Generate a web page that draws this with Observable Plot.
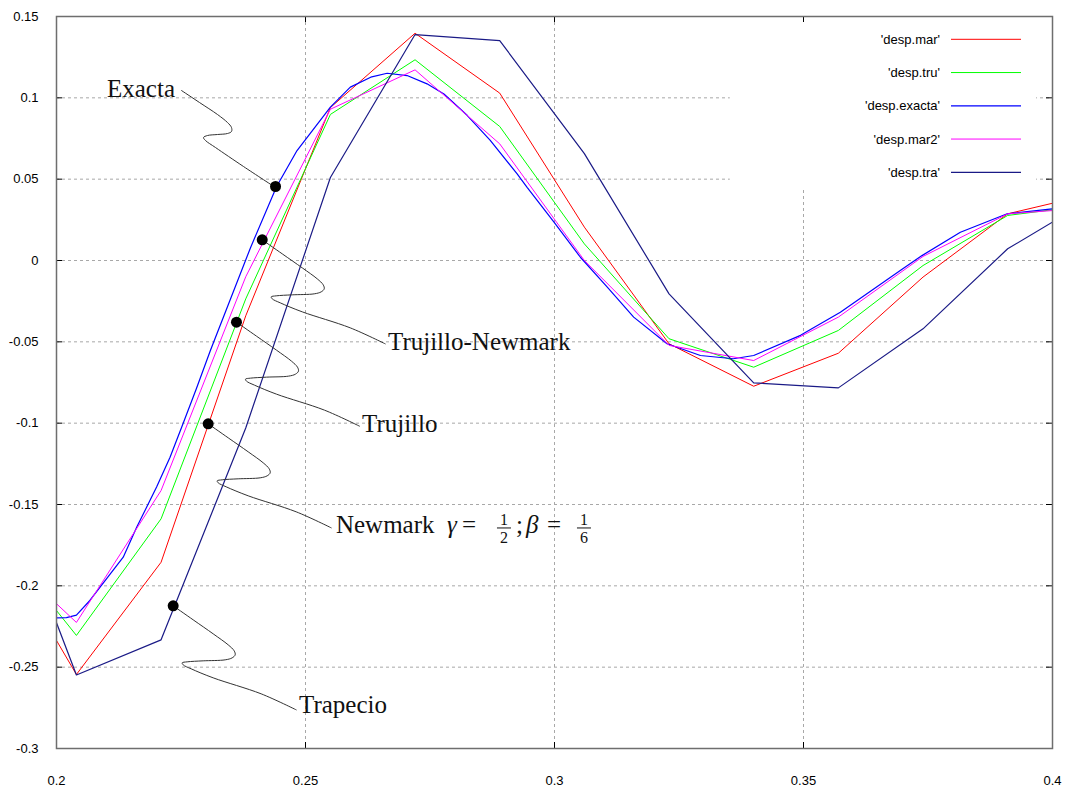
<!DOCTYPE html>
<html><head><meta charset="utf-8">
<script src="https://cdn.jsdelivr.net/npm/d3@7"></script>
<script src="https://cdn.jsdelivr.net/npm/@observablehq/plot@0.6"></script>
<style>body{margin:0;background:#fff}#chart{width:1066px;height:795px}</style>
</head><body><div id="chart"></div>
<script>
// ---- data ----
const tCoarse  = [0.2, 0.204, 0.221, 0.238, 0.255, 0.272, 0.289, 0.306, 0.323, 0.34, 0.357, 0.374, 0.391, 0.4];
const despMar  = [-0.2336, -0.2545, -0.1855, -0.034, 0.094, 0.1397, 0.1029, 0.0205, -0.0512, -0.0773, -0.057, -0.0102, 0.0287, 0.0352];
const despTru  = [-0.2152, -0.2305, -0.1588, -0.0236, 0.0898, 0.1234, 0.0824, 0.0102, -0.0481, -0.0656, -0.043, -0.0031, 0.0277, 0.0312];
const despMar2 = [-0.211, -0.2225, -0.1414, -0.01, 0.093, 0.1172, 0.0717, 0.0, -0.0522, -0.0615, -0.0348, 0.0025, 0.0287, 0.0307];
const despTra  = [-0.2227, -0.2548, -0.2332, -0.103, 0.051, 0.1389, 0.1352, 0.0657, -0.0205, -0.0752, -0.0783, -0.042, 0.0072, 0.0236];
const tExacta = [0.2, 0.2020, 0.2040, 0.2067, 0.2134, 0.2161, 0.2201, 0.2228, 0.2254, 0.2281, 0.2309, 0.2390, 0.2442, 0.2483,
  0.2550, 0.2590, 0.2631, 0.2664, 0.2704, 0.2744, 0.2778, 0.2825, 0.2871, 0.2925, 0.2945, 0.2999, 0.3052, 0.3106, 0.3159,
  0.3226, 0.3293, 0.3359, 0.3400, 0.3494, 0.3574, 0.3695, 0.3738, 0.3815, 0.3909, 0.4];
const despExacta = [-0.2197, -0.2195, -0.2180, -0.2090, -0.1824, -0.1640, -0.1393, -0.1210, -0.1004, -0.0787, -0.0553, 0.0082, 0.0455, 0.0676,
  0.0943, 0.1066, 0.1127, 0.1151, 0.1137, 0.1086, 0.1024, 0.0891, 0.0738, 0.0533, 0.0450, 0.0236, 0.0020, -0.0164, -0.0348,
  -0.0512, -0.0584, -0.0604, -0.0584, -0.0460, -0.0318, -0.0060, 0.0030, 0.0174, 0.0287, 0.0318];

const xTicks = [0.2, 0.25, 0.3, 0.35, 0.4];
const xTickLabels = ["0.2", "0.25", "0.3", "0.35", "0.4"];
const yTicks = [0.15, 0.1, 0.05, 0, -0.05, -0.1, -0.15, -0.2, -0.25, -0.3];
const yTickLabels = ["0.15", "0.1", "0.05", "0", "-0.05", "-0.1", "-0.15", "-0.2", "-0.25", "-0.3"];

const seriesNames  = ["'desp.mar'", "'desp.tru'", "'desp.exacta'", "'desp.mar2'", "'desp.tra'"];
const seriesColors = ["#ff0000", "#00ff00", "#0000ff", "#ff00ff", "#1a1a86"];

// annotations
const annLabels = ["Exacta", "Trujillo-Newmark", "Trujillo", "Newmark", "Trapecio"];
const annDotT   = [0.24398, 0.24131, 0.23614, 0.23046, 0.22343];
const annDotV   = [0.0455, 0.0127, -0.0379, -0.1004, -0.2123];
const annTextT  = [0.21024, 0.26667, 0.26145, 0.25622, 0.24880];
const annTextV  = [0.1002, -0.0553, -0.1057, -0.1678, -0.2785];
// leader start points (Exacta starts at its label, the others at their dot)
const leadT = [0.2251, 0.24131, 0.23614, 0.23046, 0.22343];
const leadV = [0.1045, 0.0127, -0.0379, -0.1004, -0.2123];

// ---- layout ----
const W = 1066, H = 795, mL = 56, mR = 14, mT = 16, mB = 47;
const xDom = [0.2, 0.4], yDom = [-0.3, 0.15];
const kx = (xDom[1] - xDom[0]) / (W - mL - mR);
const ky = (yDom[1] - yDom[0]) / (H - mT - mB);

// hairpin leader shapes (pixel offsets, style only)
const hookLow = [[0,0],[20,14],[40,28],[55,39],[61,45],[62,49],[59,52],[52,54],[30,55],[14,56],[9,57],[10,59],[18,63],[40,72],[88,88],[123,104]];
const hookTop = [[0,0],[18,12],[36,24],[46,32],[50,37],[50,41],[46,43],[36,44],[26,45],[22,47],[24,50],[34,57],[62,76],[94,97]];
const leaders = [];
leadT.forEach((t0, i) => {
  const hook = i === 0 ? hookTop : hookLow;
  hook.forEach(([ox, oy]) => leaders.push({k: i, t: t0 + ox * kx, v: leadV[i] - oy * ky}));
});

const fmtX = d => xTickLabels[xTicks.findIndex(v => Math.abs(v - d) < 1e-9)];
const fmtY = d => yTickLabels[yTicks.findIndex(v => Math.abs(v - d) < 1e-9)];
const rows = (ts, vs) => ts.map((t, i) => ({t, v: vs[i]}));

const gridStyle = {stroke: "#a8a8a8", strokeOpacity: 1, strokeWidth: 1, strokeDasharray: "3,3"};
const tl = 6;

const plot = Plot.plot({
  width: W, height: H, marginLeft: mL, marginRight: mR, marginTop: mT, marginBottom: mB,
  x: {domain: xDom, label: null}, y: {domain: yDom, label: null},
  style: {fontFamily: "'Liberation Sans', Arial, sans-serif", fontSize: "13px", background: "#fff", color: "#000"},
  marks: [
    Plot.gridX(xTicks.slice(1, -1), gridStyle),
    Plot.gridY(yTicks.slice(1, -1), gridStyle),
    Plot.rect([0], {x1: 0.3353, x2: 0.3968, y1: 0.0443, y2: 0.15, fill: "white"}),
    Plot.line(rows(tCoarse, despMar),  {x: "t", y: "v", stroke: seriesColors[0], strokeWidth: 1, clip: true}),
    Plot.line(rows(tCoarse, despTru),  {x: "t", y: "v", stroke: seriesColors[1], strokeWidth: 1, clip: true}),
    Plot.line(rows(tExacta, despExacta), {x: "t", y: "v", stroke: seriesColors[2], strokeWidth: 1.2, clip: true}),
    Plot.line(rows(tCoarse, despMar2), {x: "t", y: "v", stroke: seriesColors[3], strokeWidth: 1, clip: true}),
    Plot.line(rows(tCoarse, despTra),  {x: "t", y: "v", stroke: seriesColors[4], strokeWidth: 1.2, clip: true}),
    Plot.line(leaders, {x: "t", y: "v", z: "k", curve: "catmull-rom", stroke: "#333", strokeWidth: 1}),
    Plot.dot(rows(annDotT, annDotV), {x: "t", y: "v", r: 5.5, fill: "#000"}),
    Plot.ruleY(yTicks, {x1: xDom[0], x2: xDom[0] + tl * kx, stroke: "#000"}),
    Plot.ruleY(yTicks, {x1: xDom[1] - tl * kx, x2: xDom[1], stroke: "#000"}),
    Plot.ruleX(xTicks, {y1: yDom[0], y2: yDom[0] + tl * ky, stroke: "#000"}),
    Plot.ruleX(xTicks, {y1: yDom[1] - tl * ky, y2: yDom[1], stroke: "#000"}),
    Plot.frame({stroke: "#6e6e6e", strokeWidth: 1.5}),
    Plot.axisX(xTicks, {tickSize: 0, tickPadding: 27, tickFormat: fmtX, label: null}),
    Plot.axisY(yTicks, {tickSize: 0, tickPadding: 18, tickFormat: fmtY, label: null})
  ]
});
document.getElementById("chart").appendChild(plot);

// ---- annotation labels (positioned through the plot's scales) ----
const sx = plot.scale("x"), sy = plot.scale("y");
const svg = d3.select(plot);
const ann = svg.append("g").attr("font-family", "'Liberation Serif', 'Times New Roman', serif")
  .attr("fill", "#111").attr("text-anchor", "start");
annLabels.forEach((lab, i) => {
  const x0 = sx.apply(annTextT[i]), y0 = sy.apply(annTextV[i]);
  ann.append("text").attr("x", x0).attr("y", y0).attr("font-size", 25).attr("text-anchor", "start").text(lab);
  if (lab === "Newmark") {
    const g = ann.append("g").attr("font-size", 25).attr("text-anchor", "start");
    g.append("text").attr("x", x0 + 111).attr("y", y0).attr("font-style", "italic").text("γ");
    g.append("text").attr("x", x0 + 126).attr("y", y0).text("=");
    const frac = (cx, num, den) => {
      g.append("text").attr("x", cx).attr("y", y0 - 8).attr("font-size", 16).attr("text-anchor", "middle").text(num);
      g.append("line").attr("x1", cx - 7).attr("x2", cx + 7).attr("y1", y0 - 5).attr("y2", y0 - 5).attr("stroke", "#111").attr("stroke-width", 1);
      g.append("text").attr("x", cx).attr("y", y0 + 10).attr("font-size", 16).attr("text-anchor", "middle").text(den);
    };
    frac(x0 + 168, "1", "2");
    g.append("text").attr("x", x0 + 180).attr("y", y0).text(";");
    g.append("text").attr("x", x0 + 190).attr("y", y0).attr("font-style", "italic").text("β");
    g.append("text").attr("x", x0 + 211).attr("y", y0).text("=");
    frac(x0 + 248, "1", "6");
  }
});

// ---- key ----
const key = svg.append("g").attr("font-family", "'Liberation Sans', Arial, sans-serif").attr("font-size", 13);
seriesNames.forEach((name, i) => {
  const y = 39.3 + 33.25 * i;
  key.append("text").attr("x", 940).attr("y", y + 4.5).attr("text-anchor", "end").attr("fill", "#000").text(name);
  key.append("line").attr("x1", 951).attr("x2", 1021).attr("y1", y).attr("y2", y)
    .attr("stroke", seriesColors[i]).attr("stroke-width", i === 2 || i === 4 ? 1.2 : 1);
});
</script>
</body></html>
